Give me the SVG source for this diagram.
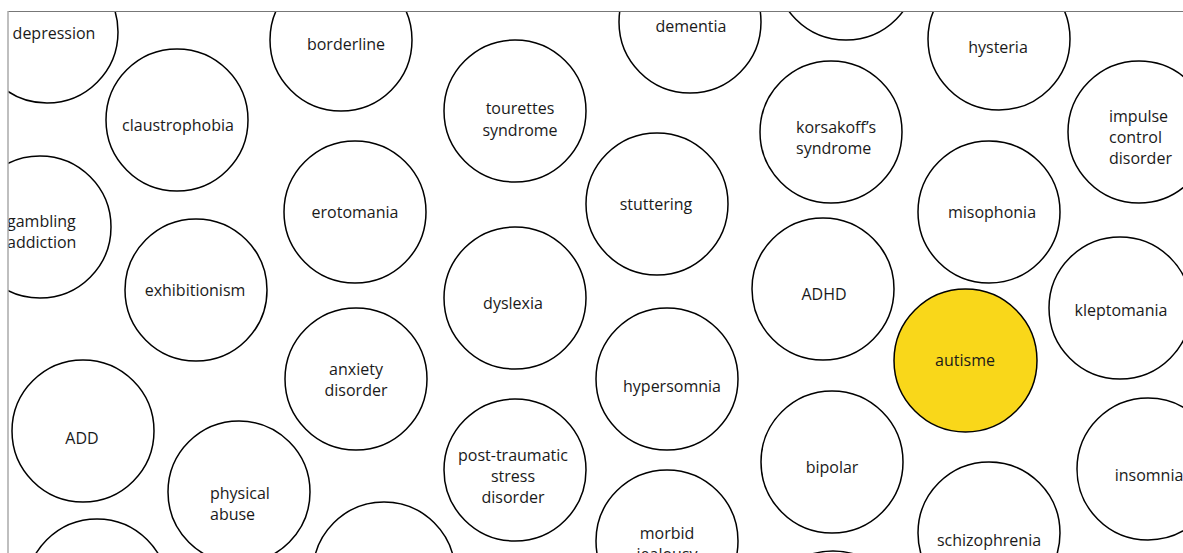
<svg xmlns="http://www.w3.org/2000/svg" width="1183" height="553" viewBox="0 0 1183 553">
  <style>
    .node circle { fill: #ffffff; stroke: #000000; stroke-width: 1.5; }
    .node.hl circle { fill: #f9d71a; }
    .node text { font-family: "Open Sans", "Liberation Sans", sans-serif; font-size: 16px; fill: #1a1a1a; text-anchor: middle; }
    .node text.left { text-anchor: start; }
    .frame-top { stroke: #777777; stroke-width: 1; }
    .frame-left { stroke: #aaaaaa; stroke-width: 1.5; }
  </style>
  <defs>
    <clipPath id="frame">
      <rect x="8" y="11" width="1175" height="542"/>
    </clipPath>
  </defs>
  <rect width="1183" height="553" fill="#ffffff"/>

  <g clip-path="url(#frame)">
    <g class="node" id="n-depression"><circle cx="47" cy="32" r="71"/><text x="54" y="39">depression</text></g>
    <g class="node" id="n-borderline"><circle cx="341" cy="40" r="71"/><text x="346" y="50">borderline</text></g>
    <g class="node" id="n-claustrophobia"><circle cx="177" cy="120" r="71"/><text x="178" y="131">claustrophobia</text></g>
    <g class="node" id="n-tourettes"><circle cx="515" cy="111" r="71"/><text x="520" y="114">tourettes</text><text x="520" y="136">syndrome</text></g>
    <g class="node" id="n-dementia"><circle cx="690" cy="22" r="71"/><text x="691" y="32">dementia</text></g>
    <g class="node" id="n-top"><circle cx="846" cy="-31" r="71"/></g>
    <g class="node" id="n-hysteria"><circle cx="999" cy="39" r="71"/><text x="998" y="53">hysteria</text></g>
    <g class="node" id="n-impulse"><circle cx="1139" cy="132" r="71"/><text class="left" x="1109" y="122">impulse</text><text class="left" x="1109" y="143">control</text><text class="left" x="1109" y="164">disorder</text></g>
    <g class="node" id="n-korsakoff"><circle cx="831" cy="132" r="71"/><text class="left" x="796" y="133">korsakoff’s</text><text class="left" x="796" y="154">syndrome</text></g>
    <g class="node" id="n-gambling"><circle cx="40" cy="227" r="71"/><text class="left" x="7" y="227">gambling</text><text class="left" x="7" y="248">addiction</text></g>
    <g class="node" id="n-erotomania"><circle cx="355" cy="212" r="71"/><text x="355" y="218">erotomania</text></g>
    <g class="node" id="n-stuttering"><circle cx="657" cy="204" r="71"/><text x="656" y="210">stuttering</text></g>
    <g class="node" id="n-misophonia"><circle cx="989" cy="212" r="71"/><text x="992" y="218">misophonia</text></g>
    <g class="node" id="n-exhibitionism"><circle cx="196" cy="290" r="71"/><text x="195" y="296">exhibitionism</text></g>
    <g class="node" id="n-dyslexia"><circle cx="515" cy="298" r="71"/><text x="513" y="309">dyslexia</text></g>
    <g class="node" id="n-adhd"><circle cx="823" cy="289" r="71"/><text x="824" y="300">ADHD</text></g>
    <g class="node" id="n-kleptomania"><circle cx="1120" cy="308" r="71"/><text x="1121" y="316">kleptomania</text></g>
    <g class="node hl" id="n-autisme"><circle cx="965.5" cy="360.5" r="71.5"/><text x="965" y="366">autisme</text></g>
    <g class="node" id="n-anxiety"><circle cx="356" cy="379" r="71"/><text x="356" y="375">anxiety</text><text x="356" y="396">disorder</text></g>
    <g class="node" id="n-hypersomnia"><circle cx="667" cy="379" r="71"/><text x="672" y="392">hypersomnia</text></g>
    <g class="node" id="n-add"><circle cx="83" cy="431" r="71"/><text x="82" y="444">ADD</text></g>
    <g class="node" id="n-ptsd"><circle cx="515" cy="470" r="71"/><text x="513" y="461">post-traumatic</text><text x="513" y="482">stress</text><text x="513" y="503">disorder</text></g>
    <g class="node" id="n-bipolar"><circle cx="832" cy="462" r="71"/><text x="832" y="473">bipolar</text></g>
    <g class="node" id="n-insomnia"><circle cx="1148" cy="469" r="71"/><text x="1149" y="481">insomnia</text></g>
    <g class="node" id="n-physical"><circle cx="239" cy="492" r="71"/><text class="left" x="210" y="499">physical</text><text class="left" x="210" y="520">abuse</text></g>
    <g class="node" id="n-schizophrenia"><circle cx="989" cy="533" r="71"/><text x="989" y="546">schizophrenia</text></g>
    <g class="node" id="n-morbid"><circle cx="667" cy="541" r="71"/><text x="667" y="539">morbid</text><text x="667" y="560">jealousy</text></g>
    <g class="node" id="n-bottom-1"><circle cx="97" cy="590" r="71"/></g>
    <g class="node" id="n-bottom-2"><circle cx="384" cy="573" r="71"/></g>
    <g class="node" id="n-bottom-3"><circle cx="833" cy="622" r="71"/></g>
  </g>

  <!-- no connectors between the bubbles -->
  <g id="connectors"/>

  <line class="frame-top" x1="8" y1="11.5" x2="1183" y2="11.5"/>
  <line class="frame-left" x1="8" y1="11" x2="8" y2="553"/>
</svg>
